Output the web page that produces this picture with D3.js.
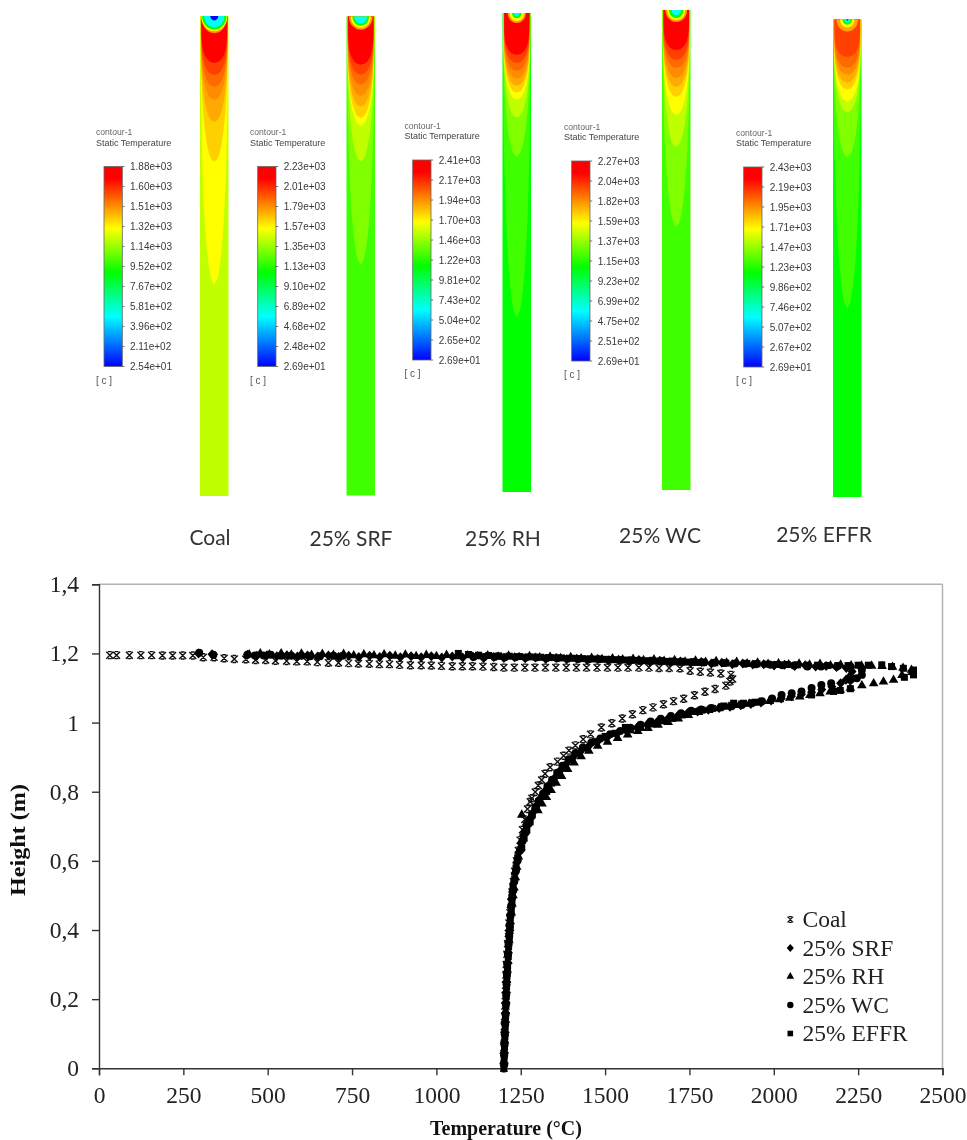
<!DOCTYPE html>
<meta charset="utf-8">
<style>
body { margin: 0; background: #fff; }
svg { display: block; filter: blur(0.4px); }
</style>
<svg width="967" height="1140"></svg>
<script src="https://d3js.org/d3.v7.min.js"></script>
<script>

// scatter values: [temperature in C, height in m]
var coalPoints = [[32,1.195],[52,1.195],[90,1.195],[124,1.195],[156,1.195],[188,1.194],[218,1.194],[248,1.194],[278,1.194],[309,1.189],[341,1.189],[371,1.186],[401,1.184],[435,1.183],[464,1.181],[494,1.181],[523,1.179],[556,1.178],[586,1.177],[617,1.177],[647,1.175],[680,1.173],[710,1.173],[740,1.172],[769,1.171],[801,1.17],[831,1.169],[861,1.169],[891,1.167],[923,1.166],[955,1.166],[985,1.165],[1015,1.164],[1047,1.163],[1077,1.163],[1107,1.163],[1138,1.162],[1170,1.161],[1200,1.159],[1231,1.159],[1262,1.159],[1292,1.159],[1323,1.159],[1354,1.159],[1385,1.159],[1415,1.159],[1445,1.159],[1476,1.159],[1507,1.159],[1538,1.159],[1568,1.159],[1600,1.159],[1630,1.159],[1660,1.158],[1690,1.158],[1722,1.157],[1752,1.15],[1782,1.147],[1812,1.145],[1843,1.142],[1873,1.138],[1878,1.126],[1870,1.119],[1858,1.107],[1826,1.097],[1796,1.089],[1765,1.079],[1733,1.069],[1703,1.062],[1673,1.053],[1642,1.044],[1612,1.036],[1581,1.024],[1551,1.012],[1520,0.998],[1489,0.986],[1457,0.966],[1435,0.952],[1412,0.934],[1393,0.919],[1377,0.904],[1359,0.887],[1337,0.871],[1322,0.852],[1312,0.834],[1302,0.818],[1293,0.799],[1283,0.781],[1278,0.771],[1270,0.75],[1262,0.72],[1255,0.69],[1248,0.66],[1243,0.63],[1237,0.6],[1232,0.57],[1228,0.54],[1224,0.51],[1221,0.48],[1218,0.45],[1215,0.42],[1213,0.39],[1211,0.36],[1209,0.33],[1207,0.3],[1206,0.27],[1205,0.24],[1204,0.21],[1203,0.18],[1202,0.15],[1201,0.12],[1201,0.09],[1200,0.06],[1200,0.03],[1200,0]];

var srfPoints = [[295,1.2],[335,1.198],[440,1.196],[468,1.193],[498,1.195],[527,1.192],[557,1.195],[588,1.191],[618,1.194],[648,1.191],[680,1.194],[710,1.19],[740,1.193],[770,1.19],[802,1.193],[832,1.19],[862,1.193],[893,1.189],[925,1.192],[955,1.189],[985,1.192],[1016,1.188],[1047,1.191],[1078,1.188],[1108,1.191],[1140,1.187],[1170,1.19],[1200,1.187],[1232,1.189],[1263,1.186],[1293,1.188],[1324,1.184],[1355,1.187],[1386,1.183],[1416,1.185],[1447,1.181],[1478,1.184],[1509,1.18],[1540,1.182],[1570,1.178],[1600,1.181],[1632,1.177],[1662,1.179],[1692,1.175],[1723,1.177],[1754,1.173],[1785,1.175],[1815,1.171],[1846,1.173],[1877,1.169],[1908,1.171],[1938,1.168],[1970,1.169],[2001,1.165],[2032,1.167],[2062,1.164],[2093,1.166],[2124,1.162],[2155,1.164],[2186,1.161],[2215,1.158],[2232,1.148],[2226,1.135],[2214,1.124],[2198,1.114],[2172,1.104],[2142,1.096],[2112,1.088],[2082,1.082],[2052,1.076],[2022,1.07],[1992,1.064],[1962,1.058],[1932,1.054],[1902,1.05],[1870,1.046],[1838,1.042],[1806,1.037],[1774,1.032],[1744,1.027],[1714,1.018],[1684,1.009],[1654,1.002],[1624,0.994],[1594,0.985],[1564,0.975],[1534,0.966],[1504,0.955],[1476,0.943],[1450,0.93],[1426,0.915],[1404,0.898],[1384,0.88],[1366,0.861],[1350,0.84],[1334,0.82],[1320,0.8],[1307,0.78],[1296,0.76],[1286,0.74],[1276,0.72],[1267,0.7],[1258,0.675],[1251,0.65],[1244,0.625],[1238,0.595],[1233,0.565],[1229,0.535],[1226,0.51],[1223,0.49],[1221,0.465],[1219,0.445],[1217,0.415],[1216,0.39],[1214,0.365],[1212,0.335],[1211,0.305],[1209,0.275],[1208,0.25],[1207,0.22],[1206,0.19],[1205,0.16],[1204,0.135],[1203,0.105],[1202,0.075],[1201,0.045],[1201,0.015]];

var rhPoints = [[445,1.197],[478,1.2],[505,1.197],[540,1.2],[570,1.196],[600,1.199],[630,1.195],[662,1.198],[695,1.195],[725,1.198],[755,1.194],[785,1.197],[815,1.194],[845,1.197],[878,1.193],[908,1.196],[940,1.192],[970,1.195],[1000,1.192],[1030,1.195],[1062,1.191],[1092,1.194],[1122,1.191],[1152,1.194],[1183,1.19],[1214,1.193],[1245,1.189],[1276,1.192],[1306,1.188],[1337,1.19],[1368,1.186],[1398,1.189],[1429,1.185],[1460,1.187],[1491,1.183],[1522,1.185],[1552,1.182],[1583,1.184],[1614,1.18],[1645,1.182],[1675,1.178],[1706,1.18],[1737,1.176],[1768,1.179],[1798,1.175],[1829,1.177],[1860,1.173],[1890,1.175],[1921,1.171],[1952,1.173],[1983,1.169],[2014,1.171],[2044,1.168],[2075,1.17],[2106,1.167],[2137,1.169],[2168,1.165],[2198,1.167],[2229,1.165],[2260,1.164],[2290,1.164],[2321,1.163],[2352,1.161],[2383,1.158],[2408,1.152],[2410,1.146],[2380,1.137],[2355,1.123],[2325,1.118],[2296,1.113],[2261,1.107],[2227,1.1],[2197,1.094],[2167,1.089],[2137,1.084],[2107,1.079],[2077,1.075],[2047,1.071],[2017,1.067],[1987,1.062],[1957,1.058],[1927,1.054],[1897,1.05],[1867,1.046],[1837,1.041],[1807,1.036],[1777,1.03],[1747,1.021],[1717,1.011],[1687,1.001],[1657,0.993],[1627,0.984],[1597,0.975],[1567,0.965],[1537,0.955],[1507,0.944],[1478,0.932],[1452,0.918],[1429,0.902],[1408,0.884],[1389,0.865],[1371,0.845],[1355,0.825],[1340,0.804],[1326,0.784],[1313,0.765],[1301,0.746],[1253,0.733],[1268,0.712],[1262,0.69],[1256,0.665],[1250,0.64],[1243,0.612],[1238,0.582],[1234,0.552],[1230,0.522],[1227,0.5],[1224,0.475],[1222,0.45],[1219,0.425],[1217,0.405],[1215,0.37],[1213,0.34],[1212,0.31],[1210,0.285],[1208,0.255],[1207,0.225],[1206,0.195],[1205,0.165],[1204,0.14],[1203,0.11],[1202,0.08],[1201,0.05],[1200,0.02]];

var wcPoints = [[297,1.202],[339,1.196],[440,1.196],[462,1.194],[488,1.194],[509,1.196],[540,1.193],[570,1.193],[600,1.193],[626,1.192],[655,1.192],[695,1.193],[722,1.193],[1110,1.19],[1141,1.19],[1172,1.19],[1203,1.189],[1234,1.189],[1265,1.188],[1296,1.188],[1327,1.187],[1358,1.186],[1389,1.185],[1420,1.184],[1451,1.183],[1482,1.183],[1513,1.182],[1544,1.181],[1575,1.18],[1606,1.179],[1637,1.179],[1668,1.178],[1699,1.177],[1730,1.176],[1761,1.175],[1792,1.174],[1823,1.173],[1854,1.172],[1885,1.171],[1916,1.17],[1947,1.169],[1990,1.167],[2025,1.166],[2060,1.165],[2100,1.162],[2140,1.162],[2187,1.162],[2227,1.162],[2261,1.152],[2261,1.138],[2246,1.128],[2227,1.123],[2170,1.114],[2141,1.109],[2112,1.1],[2082,1.09],[2053,1.085],[2023,1.08],[1995,1.07],[1965,1.062],[1935,1.056],[1905,1.051],[1875,1.047],[1845,1.045],[1815,1.042],[1785,1.038],[1755,1.034],[1725,1.027],[1695,1.019],[1665,1.011],[1635,1.003],[1605,0.994],[1575,0.985],[1545,0.976],[1515,0.966],[1486,0.954],[1459,0.942],[1434,0.928],[1412,0.912],[1392,0.894],[1374,0.875],[1358,0.855],[1343,0.835],[1329,0.815],[1316,0.794],[1304,0.774],[1293,0.752],[1283,0.73],[1274,0.708],[1265,0.683],[1256,0.658],[1248,0.63],[1241,0.602],[1236,0.572],[1231,0.542],[1228,0.515],[1225,0.495],[1222,0.47],[1220,0.442],[1218,0.41],[1216,0.383],[1214,0.358],[1212,0.328],[1210,0.3],[1209,0.27],[1208,0.243],[1207,0.213],[1206,0.185],[1205,0.155],[1204,0.128],[1203,0.098],[1202,0.068],[1201,0.038],[1201,0.01]];

var effrPoints = [[1065,1.2],[1095,1.197],[1125,1.195],[1155,1.194],[1185,1.193],[1216,1.192],[1247,1.191],[1278,1.19],[1309,1.189],[1340,1.188],[1371,1.187],[1402,1.186],[1433,1.185],[1464,1.184],[1495,1.183],[1526,1.182],[1557,1.181],[1588,1.18],[1619,1.179],[1650,1.178],[1681,1.177],[1712,1.176],[1743,1.175],[1774,1.174],[1792,1.174],[1825,1.173],[1858,1.172],[1920,1.171],[1950,1.17],[1980,1.169],[2010,1.168],[2040,1.168],[2070,1.167],[2100,1.166],[2130,1.166],[2160,1.165],[2190,1.165],[2220,1.165],[2250,1.166],[2280,1.166],[2320,1.167],[2349,1.162],[2384,1.157],[2414,1.152],[2414,1.138],[2387,1.131],[2227,1.098],[2197,1.093],[2177,1.09],[2112,1.08],[1945,1.059],[1910,1.056],[1881,1.056],[1852,1.048],[1818,1.041],[1788,1.036],[1759,1.032],[1729,1.022],[1700,1.012],[1670,1.005],[1640,0.996],[1605,0.986],[1575,0.979],[1560,0.986],[1530,0.969],[1500,0.96],[1471,0.945],[1441,0.926],[1421,0.911],[1401,0.892],[1381,0.873],[1361,0.854],[1342,0.825],[1327,0.801],[1303,0.771],[1296,0.753],[1283,0.733],[1278,0.713],[1268,0.689],[1260,0.666],[1253,0.637],[1241,0.609],[1236,0.579],[1232,0.548],[1227,0.525],[1225,0.504],[1224,0.48],[1222,0.456],[1219,0.435],[1218,0.4],[1216,0.377],[1214,0.352],[1213,0.323],[1211,0.294],[1209,0.265],[1208,0.236],[1207,0.207],[1206,0.178],[1205,0.149],[1204,0.12],[1203,0.091],[1202,0.062],[1201,0.033],[1200,0]];

var seriesNames = ["Coal", "25% SRF", "25% RH", "25% WC", "25% EFFR"];
var seriesPoints = [coalPoints, srfPoints, rhPoints, wcPoints, effrPoints];

var xTicks = [0, 250, 500, 750, 1000, 1250, 1500, 1750, 2000, 2250, 2500];
var yTicks = [0, 0.2, 0.4, 0.6, 0.8, 1, 1.2, 1.4];

// contour legends, as printed
var coalLegend = ["1.88e+03","1.60e+03","1.51e+03","1.32e+03","1.14e+03","9.52e+02","7.67e+02","5.81e+02","3.96e+02","2.11e+02","2.54e+01"];
var srfLegend = ["2.23e+03","2.01e+03","1.79e+03","1.57e+03","1.35e+03","1.13e+03","9.10e+02","6.89e+02","4.68e+02","2.48e+02","2.69e+01"];
var rhLegend = ["2.41e+03","2.17e+03","1.94e+03","1.70e+03","1.46e+03","1.22e+03","9.81e+02","7.43e+02","5.04e+02","2.65e+02","2.69e+01"];
var wcLegend = ["2.27e+03","2.04e+03","1.82e+03","1.59e+03","1.37e+03","1.15e+03","9.23e+02","6.99e+02","4.75e+02","2.51e+02","2.69e+01"];
var effrLegend = ["2.43e+03","2.19e+03","1.95e+03","1.71e+03","1.47e+03","1.23e+03","9.86e+02","7.46e+02","5.07e+02","2.67e+02","2.69e+01"];

// contour bands: [temperature, height of the band's lower tip in m], outermost first
var coalBands = [[1305,0.5275],[1390,0.835],[1459,0.935],[1514,0.99],[1576,1.0225],[1653,1.0525],[1769,1.0825]];
var srfBands = [[1305,0.579],[1426,0.836],[1547,0.926],[1648,0.946],[1730,0.974],[1795,1.001],[1869,1.029],[1960,1.054],[2098,1.079]];
var rhBands = [[1278,0.4375],[1409,0.84],[1540,0.9375],[1671,0.9825],[1781,1.0],[1869,1.0175],[1939,1.035],[2019,1.055],[2118,1.075],[2267,1.095]];
var wcBands = [[1328,0.6575],[1451,0.8575],[1575,0.9375],[1678,0.9825],[1761,1.0075],[1827,1.03],[1902,1.055],[1995,1.075],[2135,1.1]];
var effrBands = [[1289,0.474],[1421,0.854],[1553,0.966],[1685,0.994],[1796,1.024],[1884,1.041],[1955,1.061],[2036,1.079],[2135,1.106]];

// inlet rings under the burner: [temperature, depth below the top in m]
var coalInlet = [[1500,0.043],[1305,0.038],[880,0.034],[500,0.028],[25,0.011]];
var srfInlet = [[1760,0.033],[1547,0.028],[1060,0.023],[580,0.018]];
var rhInlet = [[1900,0.025],[1671,0.02],[1147,0.013],[620,0.008]];
var wcInlet = [[1800,0.03],[1575,0.025],[1080,0.02],[590,0.013]];
var effrInlet = [[1900,0.03],[1685,0.02],[1156,0.013],[630,0.008],[27,0.003]];

var bgTemps = [1203, 1184, 1147, 1204, 1156];
var tempRanges = [[25.4,1880],[26.9,2230],[26.9,2410],[26.9,2270],[26.9,2430]];

var svg = d3.select("svg");
var serif = "'Liberation Serif', 'Times New Roman', serif";
var sans = "'Liberation Sans', Arial, sans-serif";

// rainbow map of the contour plots, over 0-1 of the legend range
var rainbow = d3.scaleLinear()
    .domain([0, 0.25, 0.47, 0.69, 0.94, 1])
    .range(["#0000ff", "#00ffff", "#00ff00", "#ffff00", "#ff0000", "#ff0000"]);

var columns = [
  { x: 200, top: 16, bottom: 496, bands: coalBands, inlet: coalInlet, legend: coalLegend, barX: 104, barY: 166.5, titleX: 96, label: [210, 545] },
  { x: 346.5, top: 16.5, bottom: 495.5, bands: srfBands, inlet: srfInlet, legend: srfLegend, barX: 257.7, barY: 166.5, titleX: 250, label: [351, 546] },
  { x: 502.5, top: 13, bottom: 492, bands: rhBands, inlet: rhInlet, legend: rhLegend, barX: 412.7, barY: 160, titleX: 404.5, label: [503, 546] },
  { x: 662, top: 10, bottom: 490, bands: wcBands, inlet: wcInlet, legend: wcLegend, barX: 571.7, barY: 161, titleX: 564, label: [660, 543] },
  { x: 833, top: 19.5, bottom: 497, bands: effrBands, inlet: effrInlet, legend: effrLegend, barX: 743.7, barY: 167, titleX: 736, label: [824, 542] }
];

var defs = svg.append("defs");
var grad = defs.append("linearGradient").attr("id", "rainbow")
    .attr("x1", 0).attr("y1", 1).attr("x2", 0).attr("y2", 0);
rainbow.domain().forEach(function(d) {
  grad.append("stop").attr("offset", d).attr("stop-color", rainbow(d));
});

columns.forEach(function(c, i) {
  var g = svg.append("g").style("filter", "blur(0.6px)");
  var w = 28.5, cx = c.x + w / 2;
  var range = tempRanges[i];
  var color = function(t) { return rainbow((t - range[0]) / (range[1] - range[0])); };
  var yH = d3.scaleLinear().domain([1.2, 0]).range([c.top, c.bottom]);

  g.append("rect").attr("x", c.x).attr("y", c.top).attr("width", w).attr("height", c.bottom - c.top)
      .attr("fill", color(bgTemps[i]));

  var samples = d3.range(0, 1.001, 0.02);
  c.bands.forEach(function(b, k) {
    var halfW = 13.7 - k * 0.12;
    var depth = yH(b[1]) - c.top;
    // short bands are blunt, long ones taper more
    var p = Math.max(2.4, 5 - depth / 60);
    var area = d3.area()
        .x0(function(t) { return cx - halfW * Math.sqrt(1 - Math.pow(t, p)); })
        .x1(function(t) { return cx + halfW * Math.sqrt(1 - Math.pow(t, p)); })
        .y(function(t) { return c.top + depth * t; });
    g.append("path").attr("d", area(samples)).attr("fill", color(b[0]));
  });

  c.inlet.forEach(function(b) {
    var depth = yH(1.2 - b[1]) - c.top;
    var halfW = Math.min(13, depth * 0.9);
    var area = d3.area()
        .x0(function(t) { return cx - halfW * Math.sqrt(1 - t * t); })
        .x1(function(t) { return cx + halfW * Math.sqrt(1 - t * t); })
        .y(function(t) { return c.top + depth * t; });
    g.append("path").attr("d", area(samples)).attr("fill", color(b[0]));
  });

  // legend bar with its ticks and labels
  var barH = 200;
  var yLeg = d3.scaleLinear().domain([0, c.legend.length - 1]).range([c.barY, c.barY + barH]);
  g.append("rect").attr("x", c.barX).attr("y", c.barY).attr("width", 18.3).attr("height", barH)
      .attr("fill", "url(#rainbow)").attr("stroke", "#666").attr("stroke-width", 0.8);
  c.legend.forEach(function(d, k) {
    g.append("line").attr("x1", c.barX + 18.3).attr("x2", c.barX + 20.5)
        .attr("y1", yLeg(k)).attr("y2", yLeg(k)).attr("stroke", "#555").attr("stroke-width", 0.8);
    g.append("text").attr("x", c.barX + 26).attr("y", yLeg(k) + 3.5)
        .attr("font-family", sans).attr("font-size", 10).attr("fill", "#3a3a3a").text(d);
  });
  g.append("text").attr("x", c.titleX).attr("y", c.barY - 31.5)
      .attr("font-family", sans).attr("font-size", 8.6).attr("fill", "#666").text("contour-1");
  g.append("text").attr("x", c.titleX).attr("y", c.barY - 21)
      .attr("font-family", sans).attr("font-size", 9).attr("fill", "#444").text("Static Temperature");
  g.append("text").attr("x", c.titleX).attr("y", c.barY + barH + 17)
      .attr("font-family", sans).attr("font-size", 10).attr("fill", "#555").text("[ c ]");

  svg.append("text").attr("x", c.label[0]).attr("y", c.label[1]).attr("text-anchor", "middle")
      .attr("font-family", "Lato, sans-serif").attr("font-size", 21).attr("fill", "#333").text(seriesNames[i]);
});

// scatter chart
var x = d3.scaleLinear().domain([0, 2500]).range([99, 942.5]);
var y = d3.scaleLinear().domain([0, 1.4]).range([1068.3, 584.3]);

var plot = svg.append("g");

plot.append("line").attr("x1", 99).attr("x2", 942.5).attr("y1", 584.3).attr("y2", 584.3)
    .attr("stroke", "#b4b4b4").attr("stroke-width", 1.5);
plot.append("line").attr("x1", 942.5).attr("x2", 942.5).attr("y1", 584.3).attr("y2", 1068.3)
    .attr("stroke", "#b4b4b4").attr("stroke-width", 1.5);

var xAxis = d3.axisBottom(x).tickValues(xTicks).tickSize(7).tickPadding(11).tickFormat(d3.format("d"));
var yAxis = d3.axisLeft(y).tickValues(yTicks).tickSize(7).tickPadding(13)
    .tickFormat(function(d) { return String(d).replace(".", ","); });

var gx = plot.append("g").attr("transform", "translate(0,1068.3)").call(xAxis);
var gy = plot.append("g").attr("transform", "translate(99,0)").call(yAxis);
[gx, gy].forEach(function(a) {
  a.selectAll("text").attr("font-family", serif).attr("font-size", 23.5).attr("fill", "#222");
  a.selectAll("line, path").attr("stroke", "#333").attr("stroke-width", 1.4);
});

svg.append("text").attr("x", 506).attr("y", 1135).attr("text-anchor", "middle")
    .attr("font-family", serif).attr("font-weight", "bold").attr("font-size", 20).attr("fill", "#111")
    .text("Temperature (°C)");
svg.append("text").attr("transform", "translate(25,840) rotate(-90)").attr("text-anchor", "middle")
    .attr("font-family", serif).attr("font-weight", "bold").attr("font-size", 20).attr("fill", "#111")
    .attr("textLength", 112).attr("lengthAdjust", "spacingAndGlyphs")
    .text("Height (m)");

// marker shapes
var crossBar = {
  draw: function(p) {
    var r = 3.5;
    p.moveTo(-r, -r); p.lineTo(r, r);
    p.moveTo(r, -r); p.lineTo(-r, r);
    p.moveTo(-r * 0.55, -r); p.lineTo(r * 0.55, -r);
    p.moveTo(-r * 0.55, r); p.lineTo(r * 0.55, r);
  }
};
var rhomb = {
  draw: function(p) {
    p.moveTo(0, -5); p.lineTo(4.5, 0); p.lineTo(0, 5); p.lineTo(-4.5, 0); p.closePath();
  }
};
var markers = [
  d3.symbol().type(crossBar)(),
  d3.symbol().type(rhomb)(),
  d3.symbol().type(d3.symbolTriangle).size(40)(),
  d3.symbol().type(d3.symbolCircle).size(50)(),
  d3.symbol().type(d3.symbolSquare).size(49)()
];

seriesPoints.forEach(function(pts, i) {
  var marks = svg.append("g").selectAll("path").data(pts).enter().append("path")
      .attr("d", markers[i])
      .attr("transform", function(d) { return "translate(" + x(d[0]) + "," + y(d[1]) + ")"; });
  if (i == 0) marks.attr("fill", "none").attr("stroke", "#111").attr("stroke-width", 1.4);
  else marks.attr("fill", "#000");
});

// legend
var legendY = d3.scaleLinear().domain([0, 4]).range([919.5, 1033.5]);
seriesNames.forEach(function(name, i) {
  var mark = svg.append("path").attr("d", markers[i])
      .attr("transform", "translate(790.3," + legendY(i) + ") scale(0.8)");
  if (i == 0) mark.attr("fill", "none").attr("stroke", "#111").attr("stroke-width", 1.5);
  else mark.attr("fill", "#000");
  svg.append("text").attr("x", 802.5).attr("y", legendY(i) + 7.5)
      .attr("font-family", serif).attr("font-size", 23.5).attr("fill", "#222").text(name);
});

</script>
